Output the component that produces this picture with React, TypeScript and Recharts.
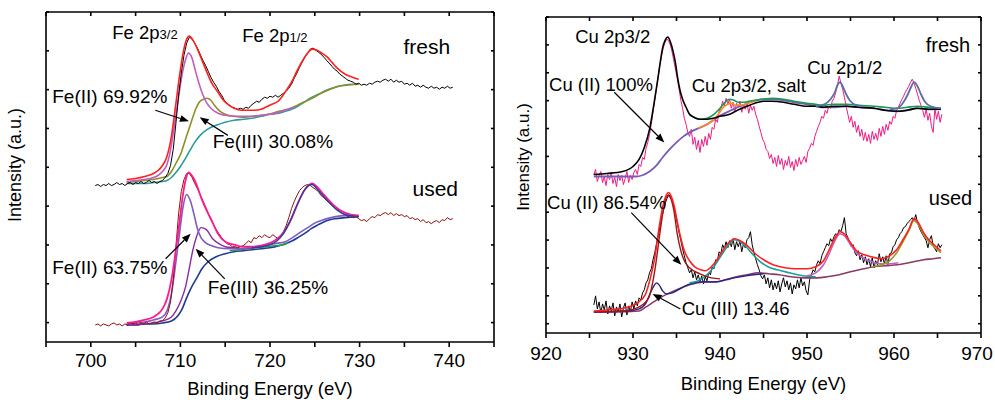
import { LineChart, Line, XAxis, YAxis, ReferenceDot, ReferenceLine } from "recharts"

type Pt = [number, number]

const FONT = "'Liberation Sans', Arial, Helvetica, sans-serif"

// ---------- Fe 2p (left panel) ----------
const feTicks = [695, 700, 705, 710, 715, 720, 725, 730, 735, 740, 745]

const feFreshRaw: Pt[] = [
    [700.5, 156], [700.8, 157], [701.1, 155], [701.4, 157], [701.7, 156], [702.0, 158], [702.3, 156], [702.6, 157],
    [702.9, 159], [703.2, 157], [703.5, 158], [703.8, 156], [704.1, 158], [704.4, 159], [704.7, 157], [705.0, 159],
    [705.3, 158], [705.6, 160], [705.9, 158], [706.2, 159], [706.5, 161], [706.8, 159], [707.1, 160], [707.4, 158],
    [707.7, 160], [708.0, 161], [708.3, 164], [708.6, 168], [708.9, 176], [709.2, 192], [709.5, 218], [709.8, 246],
    [710.1, 268], [710.4, 286], [710.7, 298], [711.0, 304], [711.3, 302], [711.6, 298], [711.9, 293], [712.2, 287],
    [712.5, 281], [712.8, 276], [713.1, 270], [713.4, 264], [713.7, 259], [714.0, 255], [714.3, 250], [714.6, 246],
    [714.9, 241], [715.2, 238], [715.5, 236], [715.8, 234], [716.1, 233], [716.4, 232], [716.7, 233], [717.0, 232],
    [717.3, 234], [717.6, 233], [717.9, 236], [718.2, 238], [718.5, 240], [718.8, 239], [719.1, 242], [719.4, 244],
    [719.7, 243], [720.0, 245], [720.3, 244], [720.6, 246], [720.9, 244], [721.2, 246], [721.5, 248], [721.8, 250],
    [722.1, 253], [722.4, 257], [722.7, 263], [723.0, 268], [723.3, 274], [723.6, 279], [723.9, 284], [724.2, 288],
    [724.5, 292], [724.8, 293], [725.1, 291], [725.4, 289], [725.7, 287], [726.0, 284], [726.3, 281], [726.6, 278],
    [726.9, 275], [727.2, 272], [727.5, 270], [727.8, 267], [728.1, 265], [728.4, 263], [728.7, 261], [729.0, 260],
    [729.3, 259], [729.6, 257], [729.9, 258], [730.2, 256], [730.5, 257], [730.8, 256], [731.1, 258], [731.4, 257],
    [731.7, 259], [732.0, 260], [732.3, 259], [732.6, 261], [732.9, 262], [733.2, 260], [733.5, 262], [733.8, 259],
    [734.1, 261], [734.4, 259], [734.7, 260], [735.0, 257], [735.3, 258], [735.6, 256], [735.9, 258], [736.2, 255],
    [736.5, 256], [736.8, 254], [737.1, 256], [737.4, 254], [737.7, 253], [738.0, 255], [738.3, 253], [738.6, 254],
    [738.9, 252], [739.2, 254], [739.5, 253], [739.8, 255], [740.1, 253], [740.4, 254],
]
const feFreshFit: Pt[] = [
    [704.0, 162], [705.0, 163], [706.0, 165], [707.0, 168], [707.5, 171], [708.0, 176], [708.5, 185], [709.0, 205],
    [709.5, 238], [709.9, 265], [710.3, 288], [710.7, 302], [711.0, 305], [711.4, 301], [711.9, 292], [712.5, 279],
    [713.0, 268], [713.5, 258], [714.2, 249], [714.8, 241], [715.3, 237], [716.0, 233], [716.8, 231], [717.5, 231],
    [718.3, 231], [719.0, 232], [719.5, 234], [720.2, 237], [720.9, 240], [721.6, 248], [722.4, 259], [723.0, 270],
    [723.6, 280], [724.2, 288], [724.7, 292], [725.2, 291], [725.8, 288], [726.4, 284], [726.9, 279], [727.5, 273],
    [728.4, 267], [729.2, 264], [729.9, 262],
]
const feFreshFe2: Pt[] = [
    [704.0, 160], [705.0, 161], [706.0, 162], [707.0, 164], [707.5, 166], [708.0, 170], [708.5, 177], [708.8, 187],
    [709.2, 208], [709.7, 238], [710.1, 262], [710.5, 279], [710.9, 288], [711.3, 283], [711.6, 273], [712.0, 260],
    [712.4, 249], [712.9, 239], [713.3, 234], [714.2, 228], [715.0, 226], [716.1, 225], [717.0, 225], [718.0, 225],
    [719.0, 226], [720.0, 227], [721.0, 229], [722.0, 232], [722.8, 234],
]
const feFreshFe3: Pt[] = [
    [704.0, 159], [705.0, 160], [706.0, 161], [707.0, 162], [708.0, 164], [708.5, 165], [709.0, 170], [709.5, 178],
    [710.1, 189], [710.6, 203], [711.2, 219], [711.7, 232], [712.1, 239], [712.6, 242], [713.0, 243], [713.4, 241],
    [713.8, 236], [714.3, 231], [715.0, 227], [716.0, 225], [716.9, 224], [718.0, 225], [719.8, 227], [721.0, 230],
    [722.0, 232], [722.8, 235], [723.5, 238], [724.0, 240], [724.7, 243], [725.5, 247], [726.2, 250], [727.0, 253],
    [727.6, 255], [728.5, 256], [729.9, 257],
]
const feFreshBg: Pt[] = [
    [704.0, 158], [705.0, 158], [706.0, 158], [707.0, 159], [708.0, 160], [708.5, 161], [709.0, 164], [709.5, 169],
    [710.0, 175], [710.5, 182], [711.0, 190], [711.6, 199], [712.2, 206], [713.0, 212], [714.0, 216], [715.0, 219],
    [716.0, 221], [717.0, 222], [718.0, 223], [719.0, 225], [720.0, 227], [721.0, 228], [721.7, 230], [722.4, 232],
    [723.1, 235], [723.8, 239], [724.5, 243], [725.4, 247], [726.3, 251], [727.3, 254], [728.2, 256], [729.2, 257],
    [729.9, 257],
]

const feUsedRaw: Pt[] = [
    [700.5, 17], [700.8, 18], [701.1, 16], [701.4, 18], [701.7, 17], [702.0, 16], [702.3, 18], [702.6, 19],
    [702.9, 17], [703.2, 18], [703.5, 16], [703.8, 18], [704.1, 17], [704.4, 19], [704.7, 18], [705.0, 19],
    [705.3, 17], [705.6, 19], [705.9, 18], [706.2, 20], [706.5, 18], [706.8, 19], [707.1, 20], [707.4, 19],
    [707.7, 21], [708.0, 21], [708.3, 24], [708.6, 29], [708.9, 40], [709.2, 62], [709.5, 95], [709.8, 128],
    [710.1, 150], [710.4, 162], [710.7, 168], [711.0, 168], [711.3, 164], [711.6, 158], [711.9, 153], [712.2, 147],
    [712.5, 141], [712.8, 135], [713.1, 128], [713.4, 122], [713.7, 117], [714.0, 112], [714.3, 108], [714.6, 104],
    [714.9, 101], [715.2, 98], [715.5, 97], [715.8, 95], [716.1, 95], [716.4, 94], [716.7, 95], [717.0, 96],
    [717.3, 98], [717.6, 101], [717.9, 99], [718.2, 104], [718.5, 103], [718.8, 106], [719.1, 104], [719.4, 107],
    [719.7, 105], [720.0, 104], [720.3, 107], [720.6, 105], [720.9, 103], [721.2, 106], [721.5, 110], [721.8, 116],
    [722.1, 124], [722.4, 133], [722.7, 140], [723.0, 146], [723.3, 151], [723.6, 154], [723.9, 156], [724.2, 157],
    [724.5, 156], [724.8, 154], [725.1, 152], [725.4, 150], [725.7, 146], [726.0, 144], [726.3, 141], [726.6, 139],
    [726.9, 136], [727.2, 134], [727.5, 132], [727.8, 130], [728.1, 128], [728.4, 127], [728.7, 125], [729.0, 126],
    [729.3, 124], [729.6, 125], [729.9, 123], [730.2, 121], [730.5, 122], [730.8, 120], [731.1, 123], [731.4, 125],
    [731.7, 124], [732.0, 127], [732.3, 126], [732.6, 128], [732.9, 129], [733.2, 127], [733.5, 129], [733.8, 126],
    [734.1, 128], [734.4, 126], [734.7, 127], [735.0, 125], [735.3, 126], [735.6, 123], [735.9, 124], [736.2, 122],
    [736.5, 123], [736.8, 120], [737.1, 122], [737.4, 119], [737.7, 120], [738.0, 118], [738.3, 120], [738.6, 121],
    [738.9, 119], [739.2, 122], [739.5, 121], [739.8, 124], [740.1, 122], [740.4, 123],
]
const feUsedFit: Pt[] = [
    [704.0, 19], [705.0, 20], [706.0, 22], [707.0, 25], [707.5, 28], [708.0, 33], [708.5, 43], [709.0, 62],
    [709.5, 92], [709.9, 120], [710.3, 148], [710.6, 162], [710.9, 169], [711.2, 167], [711.6, 161], [712.0, 152],
    [712.4, 142], [713.0, 130], [713.5, 121], [714.2, 108], [715.0, 100], [716.0, 97], [716.9, 95], [718.0, 95],
    [719.0, 96], [719.8, 98], [720.5, 101], [721.2, 106], [721.8, 113], [722.4, 123], [722.9, 134], [723.4, 144],
    [723.9, 152], [724.3, 156], [724.7, 158], [725.2, 155], [725.8, 149], [726.5, 142], [727.3, 135], [728.1, 130],
    [729.0, 127], [729.9, 126],
]
const feUsedPeak: Pt[] = [
    [718.0, 94], [719.0, 95], [720.0, 97], [720.8, 101], [721.5, 108], [722.1, 118], [722.7, 130], [723.3, 142],
    [723.8, 151], [724.3, 156], [724.7, 157], [725.2, 153], [725.8, 147], [726.5, 140], [727.3, 133], [728.1, 128],
    [729.0, 126], [729.9, 125],
]
const feUsedBg: Pt[] = [
    [704.0, 17], [705.0, 17], [706.0, 18], [707.0, 18], [708.0, 19], [709.0, 21], [709.7, 26], [710.2, 33],
    [710.6, 42], [711.2, 54], [711.9, 65], [712.4, 73], [713.1, 80], [714.0, 85], [715.0, 88], [716.0, 90],
    [717.0, 91], [718.0, 92], [719.0, 93], [720.0, 94], [721.0, 96], [721.7, 98], [722.5, 101], [723.1, 104],
    [724.0, 109], [724.6, 113], [725.4, 117], [726.3, 121], [727.3, 123], [728.4, 124], [729.9, 125],
]
const feUsedFe2: Pt[] = [
    [704.0, 18], [705.0, 19], [706.0, 20], [707.0, 22], [708.0, 25], [708.5, 31], [709.0, 48], [709.5, 80],
    [709.9, 108], [710.3, 135], [710.7, 147], [711.1, 141], [711.5, 128], [711.9, 113], [712.3, 104], [712.8, 99],
    [713.5, 96], [714.2, 94], [715.5, 93], [716.4, 93], [717.5, 94], [718.5, 95], [719.5, 96], [720.5, 98],
    [721.7, 100], [722.5, 104], [723.5, 110], [724.2, 114], [725.1, 119], [726.0, 122], [727.3, 125], [728.4, 126],
    [729.9, 126],
]
const feUsedFe3: Pt[] = [
    [704.0, 17], [706.0, 18], [707.0, 19], [708.0, 21], [709.0, 25], [709.5, 31], [710.1, 42], [710.6, 56],
    [711.0, 74], [711.4, 92], [711.8, 105], [712.3, 114], [712.9, 112], [713.6, 103], [714.3, 98], [715.0, 95],
    [716.0, 94], [717.0, 93], [718.0, 94], [719.0, 95],
]
const feUsedTrough: Pt[] = [
    [715.5, 91], [716.5, 92], [717.5, 93], [718.5, 94], [719.5, 95], [720.5, 96], [721.5, 97], [722.0, 99],
]

// ---------- Cu 2p (right panel) ----------
const cuTicks = [920, 925, 930, 935, 940, 945, 950, 955, 960, 965, 970]

const cuFreshRaw: Pt[] = [
    [925.5, 158], [925.7, 163], [925.9, 151], [926.1, 157], [926.3, 161], [926.5, 150], [926.7, 156], [926.9, 147],
    [927.1, 158], [927.3, 153], [927.5, 160], [927.7, 149], [927.9, 155], [928.1, 146], [928.3, 158], [928.5, 152],
    [928.7, 157], [928.9, 148], [929.1, 154], [929.3, 161], [929.5, 150], [929.7, 157], [929.9, 153], [930.1, 160],
    [930.3, 163], [930.5, 158], [930.7, 168], [930.9, 166], [931.1, 175], [931.3, 173], [931.5, 184], [931.7, 190],
    [931.9, 198], [932.1, 208], [932.3, 220], [932.5, 232], [932.7, 244], [932.9, 256], [933.1, 268], [933.3, 277],
    [933.5, 285], [933.7, 290], [933.9, 293], [934.1, 291], [934.3, 287], [934.5, 280], [934.7, 271], [934.9, 262],
    [935.1, 253], [935.3, 243], [935.5, 232], [935.7, 224], [935.9, 214], [936.1, 208], [936.3, 200], [936.5, 196],
    [936.7, 203], [936.9, 188], [937.1, 195], [937.3, 183], [937.5, 192], [937.7, 180], [937.9, 193], [938.1, 186],
    [938.3, 196], [938.5, 187], [938.7, 199], [938.9, 193], [939.1, 205], [939.3, 203], [939.5, 213], [939.7, 210],
    [939.9, 221], [940.1, 224], [940.3, 231], [940.5, 226], [940.7, 234], [940.9, 228], [941.1, 233], [941.3, 224],
    [941.5, 230], [941.7, 221], [941.9, 229], [942.1, 225], [942.3, 231], [942.5, 220], [942.7, 228], [942.9, 223],
    [943.1, 230], [943.3, 219], [943.5, 227], [943.7, 222], [943.9, 226], [944.1, 218], [944.3, 213], [944.5, 206],
    [944.7, 200], [944.9, 193], [945.1, 190], [945.3, 183], [945.5, 181], [945.7, 174], [945.9, 178], [946.1, 169],
    [946.3, 175], [946.5, 166], [946.7, 177], [946.9, 168], [947.1, 174], [947.3, 163], [947.5, 172], [947.7, 167],
    [947.9, 176], [948.1, 165], [948.3, 171], [948.5, 162], [948.7, 173], [948.9, 166], [949.1, 175], [949.3, 168],
    [949.5, 172], [949.7, 176], [949.9, 170], [950.1, 181], [950.3, 184], [950.5, 189], [950.7, 187], [950.9, 196],
    [951.1, 201], [951.3, 206], [951.5, 210], [951.7, 216], [951.9, 214], [952.1, 222], [952.3, 219], [952.5, 226],
    [952.7, 224], [952.9, 231], [953.1, 234], [953.3, 240], [953.5, 247], [953.7, 256], [953.9, 249], [954.1, 243],
    [954.3, 235], [954.5, 226], [954.7, 218], [954.9, 210], [955.1, 216], [955.3, 205], [955.5, 211], [955.7, 200],
    [955.9, 207], [956.1, 196], [956.3, 203], [956.5, 192], [956.7, 200], [956.9, 191], [957.1, 198], [957.3, 189],
    [957.5, 201], [957.7, 193], [957.9, 199], [958.1, 192], [958.3, 204], [958.5, 196], [958.7, 206], [958.9, 198],
    [959.1, 208], [959.3, 202], [959.5, 211], [959.7, 208], [959.9, 216], [960.1, 214], [960.3, 222], [960.5, 225],
    [960.7, 229], [960.9, 233], [961.1, 236], [961.3, 240], [961.5, 243], [961.7, 246], [961.9, 250], [962.1, 253],
    [962.3, 249], [962.5, 244], [962.7, 238], [962.9, 232], [963.1, 227], [963.3, 222], [963.5, 215], [963.7, 223],
    [963.9, 212], [964.1, 219], [964.3, 206], [964.5, 200], [964.7, 224], [964.9, 213], [965.1, 221], [965.3, 210],
    [965.5, 218],
]
const cuFreshFit: Pt[] = [
    [925.5, 158], [927.0, 159], [928.8, 161], [930.0, 166], [930.7, 173], [931.3, 185], [931.9, 203], [932.4, 228],
    [932.8, 250], [933.1, 268], [933.4, 284], [933.7, 292], [934.0, 295], [934.3, 290], [934.6, 281], [934.9, 268],
    [935.1, 256], [935.4, 242], [935.7, 233], [936.1, 225], [936.5, 218], [937.0, 215], [937.7, 213], [938.5, 213],
    [939.2, 214], [940.0, 216], [941.1, 218], [942.0, 222], [943.1, 226], [944.0, 229], [945.0, 231], [946.0, 231],
    [947.3, 230], [948.5, 228], [950.0, 226], [951.0, 226], [951.9, 225], [953.0, 226], [954.6, 226], [956.0, 225],
    [957.7, 224], [959.0, 222], [960.4, 221], [961.5, 222], [962.7, 224], [964.0, 223], [965.4, 223],
]
const cuFreshBg: Pt[] = [
    [925.5, 156], [928.0, 156], [930.4, 156], [931.0, 157], [931.9, 161], [932.7, 167], [933.4, 175], [934.2, 183],
    [935.0, 190], [935.8, 196], [936.5, 200], [937.5, 204], [938.5, 208], [939.4, 213], [940.3, 218], [941.3, 222],
    [942.3, 226], [943.2, 229], [944.2, 232], [945.0, 233], [946.1, 233], [947.3, 232], [948.5, 230], [950.0, 228],
    [951.9, 225], [953.0, 225], [954.5, 226], [956.0, 225], [957.7, 224], [959.0, 222], [960.4, 221], [961.5, 222],
    [962.7, 224], [964.0, 223], [965.4, 223],
]
const cuFreshSalt: Pt[] = [
    [936.5, 218], [937.7, 213], [938.5, 214], [939.3, 218], [940.1, 225], [940.7, 231], [941.1, 233], [941.6, 232],
    [942.1, 230], [942.7, 230], [943.3, 231], [944.0, 232], [945.0, 233], [946.0, 234], [947.3, 233], [948.5, 231],
    [950.0, 229], [951.0, 228], [951.9, 227], [953.0, 228], [954.6, 228], [956.0, 227], [957.7, 226], [959.0, 225],
    [960.4, 224], [961.5, 225], [962.7, 226], [964.0, 225], [965.4, 224],
]
const cuFreshSaltBg: Pt[] = [
    [937.5, 204], [938.5, 208], [939.2, 212], [939.8, 218], [940.4, 225], [940.9, 228], [941.3, 229], [941.8, 227],
    [942.3, 227], [942.9, 228], [943.5, 230], [944.2, 232],
]
const cuFreshP1: Pt[] = [
    [951.0, 226], [952.0, 228], [952.7, 233], [953.2, 240], [953.5, 247], [953.8, 250], [954.1, 246], [954.5, 238],
    [955.0, 231], [955.7, 227], [956.5, 226],
]
const cuFreshP2: Pt[] = [
    [959.5, 223], [960.4, 224], [961.0, 229], [961.6, 238], [962.0, 246], [962.3, 250], [962.7, 246], [963.1, 238],
    [963.6, 230], [964.2, 226], [965.4, 224],
]

const cuUsedRaw: Pt[] = [
    [925.5, 28], [925.7, 37], [925.9, 24], [926.1, 31], [926.3, 20], [926.5, 29], [926.7, 23], [926.9, 32],
    [927.1, 19], [927.3, 27], [927.5, 22], [927.7, 30], [927.9, 17], [928.1, 26], [928.3, 21], [928.5, 29],
    [928.7, 16], [928.9, 25], [929.1, 30], [929.3, 18], [929.5, 27], [929.7, 21], [929.9, 31], [930.1, 24],
    [930.3, 32], [930.5, 27], [930.7, 35], [930.9, 33], [931.1, 40], [931.3, 43], [931.5, 50], [931.7, 53],
    [931.9, 60], [932.1, 64], [932.3, 73], [932.5, 80], [932.7, 89], [932.9, 97], [933.1, 106], [933.3, 115],
    [933.5, 122], [933.7, 129], [933.9, 134], [934.1, 138], [934.3, 136], [934.5, 131], [934.7, 125], [934.9, 117],
    [935.1, 109], [935.3, 100], [935.5, 92], [935.7, 84], [935.9, 77], [936.1, 70], [936.3, 65], [936.5, 60],
    [936.7, 63], [936.9, 55], [937.1, 61], [937.3, 53], [937.5, 58], [937.7, 51], [937.9, 57], [938.1, 49],
    [938.3, 56], [938.5, 52], [938.7, 60], [938.9, 58], [939.1, 66], [939.3, 64], [939.5, 73], [939.7, 72],
    [939.9, 81], [940.1, 79], [940.3, 88], [940.5, 84], [940.7, 91], [940.9, 85], [941.1, 92], [941.3, 86],
    [941.5, 94], [941.7, 83], [941.9, 91], [942.1, 86], [942.3, 92], [942.5, 81], [942.7, 89], [942.9, 85],
    [943.1, 93], [943.3, 95], [943.5, 101], [943.7, 88], [943.9, 80], [944.1, 74], [944.3, 68], [944.5, 63],
    [944.7, 57], [944.9, 54], [945.1, 58], [945.3, 49], [945.5, 55], [945.7, 45], [945.9, 53], [946.1, 43],
    [946.3, 50], [946.5, 44], [946.7, 52], [946.9, 41], [947.1, 49], [947.3, 55], [947.5, 46], [947.7, 52],
    [947.9, 43], [948.1, 50], [948.3, 39], [948.5, 48], [948.7, 44], [948.9, 53], [949.1, 45], [949.3, 55],
    [949.5, 47], [949.7, 51], [949.9, 42], [950.1, 38], [950.3, 53], [950.5, 58], [950.7, 63], [950.9, 61],
    [951.1, 68], [951.3, 72], [951.5, 69], [951.7, 77], [951.9, 81], [952.1, 85], [952.3, 89], [952.5, 87],
    [952.7, 94], [952.9, 91], [953.1, 96], [953.3, 99], [953.5, 97], [953.7, 103], [953.9, 101], [954.1, 107],
    [954.3, 115], [954.5, 99], [954.7, 95], [954.9, 90], [955.1, 86], [955.3, 88], [955.5, 80], [955.7, 77],
    [955.9, 82], [956.1, 73], [956.3, 78], [956.5, 70], [956.7, 76], [956.9, 68], [957.1, 74], [957.3, 66],
    [957.5, 75], [957.7, 65], [957.9, 72], [958.1, 68], [958.3, 79], [958.5, 71], [958.7, 76], [958.9, 69],
    [959.1, 77], [959.3, 68], [959.5, 79], [959.7, 80], [959.9, 86], [960.1, 88], [960.3, 93], [960.5, 95],
    [960.7, 99], [960.9, 101], [961.1, 105], [961.3, 106], [961.5, 109], [961.7, 111], [961.9, 113], [962.1, 115],
    [962.3, 112], [962.5, 118], [962.7, 110], [962.9, 105], [963.1, 101], [963.3, 98], [963.5, 95], [963.7, 92],
    [963.9, 85], [964.1, 93], [964.3, 97], [964.5, 87], [964.7, 84], [964.9, 81], [965.1, 89], [965.3, 85],
    [965.5, 88],
]
const cuUsedFit: Pt[] = [
    [925.5, 22], [927.0, 23], [929.0, 25], [930.5, 30], [931.4, 38], [932.0, 55], [932.5, 75], [933.0, 105],
    [933.4, 125], [933.8, 137], [934.1, 140], [934.4, 136], [934.7, 128], [935.0, 115], [935.4, 98], [935.9, 82],
    [936.5, 72], [937.1, 66], [937.8, 63], [938.3, 62], [939.0, 66], [939.5, 71], [940.3, 82], [941.0, 90],
    [941.7, 94], [942.3, 92], [943.0, 88], [943.6, 83], [944.2, 78], [945.2, 72], [946.1, 68], [947.5, 65],
    [948.6, 64], [950.0, 64], [951.0, 66], [951.9, 72], [952.5, 82], [953.1, 93], [953.8, 101], [954.4, 98],
    [955.0, 90], [955.7, 82], [956.6, 78], [957.4, 76], [958.5, 74], [959.3, 76], [960.3, 83], [961.1, 94],
    [961.7, 103], [962.3, 114], [962.8, 110], [963.4, 100], [964.0, 93], [964.6, 88], [965.4, 82],
]
const cuUsedCu2: Pt[] = [
    [925.5, 21], [929.0, 22], [930.7, 26], [931.8, 35], [932.5, 62], [933.1, 100], [933.6, 128], [934.0, 137],
    [934.3, 135], [934.7, 122], [935.1, 98], [935.5, 82], [935.9, 72], [936.5, 65], [937.7, 59], [939.0, 55],
    [940.0, 54],
]
const cuUsedCu3: Pt[] = [
    [925.5, 21], [929.5, 22], [930.7, 24], [931.5, 30], [932.0, 40], [932.4, 47], [932.7, 50], [933.0, 48],
    [933.4, 42], [933.9, 39], [934.5, 40], [935.2, 43], [936.0, 47], [937.0, 50], [938.0, 51], [939.5, 51],
    [941.0, 54], [943.0, 57], [945.0, 59],
]
const cuUsedSat: Pt[] = [
    [936.5, 50], [937.7, 53], [938.5, 58], [939.3, 66], [940.2, 78], [941.0, 88], [941.7, 93], [942.3, 91],
    [943.0, 86], [943.6, 80], [944.5, 72], [945.5, 66], [946.6, 63], [948.0, 60], [949.5, 57], [951.0, 56],
]
const cuUsedBg: Pt[] = [
    [925.5, 21], [928.0, 21], [930.7, 22], [931.5, 26], [932.2, 30], [933.3, 36], [934.2, 40], [935.3, 44],
    [936.5, 48], [937.3, 50], [938.5, 51], [939.6, 51], [940.7, 53], [941.9, 56], [943.1, 58], [944.4, 60],
    [945.6, 59], [946.8, 58], [948.2, 56], [949.6, 55], [951.2, 55], [952.3, 56], [953.7, 58], [955.0, 61],
    [956.5, 64], [957.7, 66], [959.0, 67], [960.4, 68], [961.7, 70], [963.4, 73], [964.5, 74], [965.4, 75],
]
const cuUsedP1: Pt[] = [
    [950.0, 57], [951.0, 60], [951.9, 68], [952.5, 78], [953.1, 90], [953.8, 99], [954.4, 96], [955.0, 88],
    [955.7, 80], [956.6, 74], [957.5, 71], [958.5, 69], [959.5, 69], [960.5, 70],
]
const cuUsedP2: Pt[] = [
    [957.5, 66], [958.5, 68], [959.5, 72], [960.3, 80], [961.1, 92], [961.7, 102], [962.3, 112], [962.8, 108],
    [963.4, 98], [964.0, 91], [964.6, 86], [965.4, 80],
]

type Series = { data: Pt[]; color: string; width: number; curve: "linear" | "monotone" }
type Note = { x: number; y: number; text: string; small?: string; size: number }
type Arrow = { from: [number, number]; to: [number, number] }

const feSeries: Series[] = [
    { data: feFreshBg, color: "#2a9d9a", width: 1.6, curve: "monotone" },
    { data: feFreshFe3, color: "#8f8f2a", width: 1.6, curve: "monotone" },
    { data: feFreshFe2, color: "#c45cc4", width: 1.6, curve: "monotone" },
    { data: feFreshRaw, color: "#000000", width: 1, curve: "linear" },
    { data: feFreshFit, color: "#ff2020", width: 1.6, curve: "monotone" },
    { data: feUsedBg, color: "#1f3a93", width: 1.6, curve: "monotone" },
    { data: feUsedTrough, color: "#21a04a", width: 1.6, curve: "monotone" },
    { data: feUsedFe3, color: "#8e2a9e", width: 1.4, curve: "monotone" },
    { data: feUsedFe2, color: "#7d5cc4", width: 1.6, curve: "monotone" },
    { data: feUsedRaw, color: "#8b1212", width: 1, curve: "linear" },
    { data: feUsedFit, color: "#ff1a8c", width: 1.8, curve: "monotone" },
    { data: feUsedPeak, color: "#2a3fa0", width: 1.4, curve: "monotone" },
]

const cuSeries: Series[] = [
    { data: cuFreshRaw, color: "#ee1c84", width: 1, curve: "linear" },
    { data: cuFreshBg, color: "#7a5ab8", width: 1.8, curve: "monotone" },
    { data: cuFreshSaltBg, color: "#ff8c1a", width: 1.6, curve: "monotone" },
    { data: cuFreshSalt, color: "#1a9a50", width: 1.6, curve: "monotone" },
    { data: cuFreshFit, color: "#000000", width: 1.6, curve: "monotone" },
    { data: cuFreshP1, color: "#5a6ea8", width: 1.8, curve: "monotone" },
    { data: cuFreshP2, color: "#5a6ea8", width: 1.8, curve: "monotone" },
    { data: cuUsedRaw, color: "#000000", width: 1, curve: "linear" },
    { data: cuUsedBg, color: "#8b3a62", width: 1.6, curve: "monotone" },
    { data: cuUsedCu3, color: "#22228c", width: 1.4, curve: "monotone" },
    { data: cuUsedSat, color: "#1ba0a0", width: 1.6, curve: "monotone" },
    { data: cuUsedP1, color: "#c060c0", width: 1.6, curve: "monotone" },
    { data: cuUsedP2, color: "#9a9a30", width: 1.6, curve: "monotone" },
    { data: cuUsedCu2, color: "#a01515", width: 1.4, curve: "monotone" },
    { data: cuUsedFit, color: "#ff2020", width: 1.6, curve: "monotone" },
]

const feNotes: Note[] = [
    { x: 702.4, y: 302, text: "Fe 2p", small: "3/2", size: 18.5 },
    { x: 716.9, y: 299, text: "Fe 2p", small: "1/2", size: 18.5 },
    { x: 734.9, y: 287, text: "fresh", size: 21 },
    { x: 735.9, y: 146, text: "used", size: 21 },
    { x: 695.7, y: 238, text: "Fe(II) 69.92%", size: 19 },
    { x: 713.6, y: 193, text: "Fe(III) 30.08%", size: 19 },
    { x: 695.7, y: 68, text: "Fe(II) 63.75%", size: 19 },
    { x: 713.05, y: 48, text: "Fe(III) 36.25%", size: 19 },
]
const feArrows: Arrow[] = [
    { from: [707.2, 231], to: [710.95, 220] },
    { from: [715.3, 206], to: [712.15, 224] },
    { from: [708.35, 83], to: [711.15, 108] },
    { from: [714.95, 63], to: [711.7, 93] },
]

const cuNotes: Note[] = [
    { x: 923.35, y: 289, text: "Cu 2p3/2", size: 18.5 },
    { x: 963.65, y: 280, text: "fresh", size: 20 },
    { x: 920.35, y: 241, text: "Cu (II) 100%", size: 18.5 },
    { x: 936.74, y: 240, text: "Cu 2p3/2, salt", size: 18.5 },
    { x: 950.02, y: 258, text: "Cu 2p1/2", size: 18.5 },
    { x: 964.0, y: 128, text: "used", size: 20 },
    { x: 920.12, y: 124, text: "Cu (II) 86.54%", size: 18.5 },
    { x: 935.59, y: 18, text: "Cu (III) 13.46", size: 18.5 },
]
const cuArrows: Arrow[] = [
    { from: [927.85, 240], to: [933.6, 190] },
    { from: [929.8, 120], to: [935.55, 68] },
    { from: [935.45, 24], to: [932.25, 39] },
]

const rows = (pts: Pt[]) => pts.map(([x, y]) => ({ x, y }))

const ArrowShape = (p: any) => {
    const { x1, y1, x2, y2 } = p
    const a = Math.atan2(y2 - y1, x2 - x1)
    const len = 9
    const half = 3.5
    const bx = x2 - len * Math.cos(a)
    const by = y2 - len * Math.sin(a)
    const head = `${x2},${y2} ${bx - half * Math.sin(a)},${by + half * Math.cos(a)} ${bx + half * Math.sin(a)},${by - half * Math.cos(a)}`
    return (
        <g>
            <line x1={x1} y1={y1} x2={bx} y2={by} stroke="#000" strokeWidth={1.2} />
            <polygon points={head} fill="#000" />
        </g>
    )
}

const noteShape = (n: Note) => (p: any) => (
    <text x={p.cx} y={p.cy} fontSize={n.size} fontFamily={FONT} fill="#000">
        {n.text}
        {n.small && <tspan fontSize={13}>{n.small}</tspan>}
    </text>
)

const yTitle = (dx: number, dy: number, size: number) => (props: any) => {
    const vb = props.viewBox
    const x = vb.x - dx
    const y = vb.y + vb.height / 2 + dy
    return (
        <text x={x} y={y} transform={`rotate(-90 ${x} ${y})`} textAnchor="middle"
            fontSize={size} fontFamily={FONT} fill="#000">
            Intensity (a.u.)
        </text>
    )
}

// only every other tick carries a number; the rightmost one is kept inside the page
const xTick = (maxX: number) => (props: any) => {
    const v = props.payload.value
    if (v % 10 !== 0) return <g />
    return (
        <text x={Math.min(props.x, maxX)} y={props.y} dy="0.71em" textAnchor="middle"
            fontSize={19} fontFamily={FONT} fill="#000">
            {v}
        </text>
    )
}

const NoTick = () => <g />

interface PanelProps {
    width: number
    margin: { top: number; right: number; bottom: number; left: number }
    xTicks: number[]
    yMax: number
    ySteps: number
    series: Series[]
    notes: Note[]
    arrows: Arrow[]
    tickMargin: number
    tickMaxX: number
    titleOffset: number
    yTitleDx: number
    yTitleDy: number
    yTitleSize: number
}

function Panel(p: PanelProps) {
    const domain: [number, number] = [p.xTicks[0], p.xTicks[p.xTicks.length - 1]]
    const yTicks = Array.from({ length: p.ySteps + 1 }, (_, i) => (i * p.yMax) / p.ySteps)
    const axisStroke = { stroke: "#000", strokeWidth: 1.6 }
    return (
        <LineChart width={p.width} height={400} margin={p.margin}>
            <XAxis
                dataKey="x" type="number" domain={domain} ticks={p.xTicks} allowDataOverflow
                tick={xTick(p.tickMaxX)} tickSize={5} tickMargin={p.tickMargin}
                axisLine={axisStroke} tickLine={axisStroke} height={30}
                label={{ value: "Binding Energy (eV)", position: "bottom", offset: p.titleOffset, fill: "#000", fontSize: 18.5, fontFamily: FONT }}
            />
            <XAxis
                xAxisId="top" orientation="top" dataKey="x" type="number" domain={domain} ticks={p.xTicks}
                allowDataOverflow mirror height={1} tick={NoTick} tickSize={4}
                axisLine={axisStroke} tickLine={axisStroke}
            />
            <YAxis
                type="number" domain={[0, p.yMax]} ticks={yTicks} allowDataOverflow mirror width={1}
                tick={NoTick} tickSize={3} axisLine={axisStroke} tickLine={axisStroke}
                label={{ content: yTitle(p.yTitleDx, p.yTitleDy, p.yTitleSize) }}
            />
            <YAxis
                yAxisId="right" orientation="right" type="number" domain={[0, p.yMax]} ticks={yTicks}
                allowDataOverflow mirror width={1} tick={NoTick} tickSize={3}
                axisLine={axisStroke} tickLine={axisStroke}
            />
            {p.series.map((s, i) => (
                <Line
                    key={i} data={rows(s.data)} dataKey="y" type={s.curve} stroke={s.color}
                    strokeWidth={s.width} dot={false} activeDot={false} isAnimationActive={false}
                />
            ))}
            {p.arrows.map((a, i) => (
                <ReferenceLine
                    key={`a${i}`} segment={[{ x: a.from[0], y: a.from[1] }, { x: a.to[0], y: a.to[1] }]}
                    shape={ArrowShape}
                />
            ))}
            {p.notes.map((n, i) => (
                <ReferenceDot key={`n${i}`} x={n.x} y={n.y} r={0} shape={noteShape(n)} />
            ))}
        </LineChart>
    )
}

export default function App() {
    return (
        <div style={{ position: "absolute", left: 0, top: 0, width: 995, height: 400, background: "#fff" }}>
            <div style={{ position: "absolute", left: 0, top: 0 }}>
                <Panel
                    width={500} margin={{ top: 12, right: 6, bottom: 28, left: 46 }}
                    xTicks={feTicks} yMax={329} ySteps={17} series={feSeries} notes={feNotes} arrows={feArrows}
                    tickMargin={7} tickMaxX={480} titleOffset={10}
                    yTitleDx={25} yTitleDy={-12} yTitleSize={18}
                />
            </div>
            <div style={{ position: "absolute", left: 500, top: 0 }}>
                <Panel
                    width={495} margin={{ top: 17, right: 14, bottom: 37, left: 46 }}
                    xTicks={cuTicks} yMax={315} ySteps={34} series={cuSeries} notes={cuNotes} arrows={cuArrows}
                    tickMargin={9} tickMaxX={477} titleOffset={14}
                    yTitleDx={17} yTitleDy={-18} yTitleSize={17}
                />
            </div>
        </div>
    )
}
